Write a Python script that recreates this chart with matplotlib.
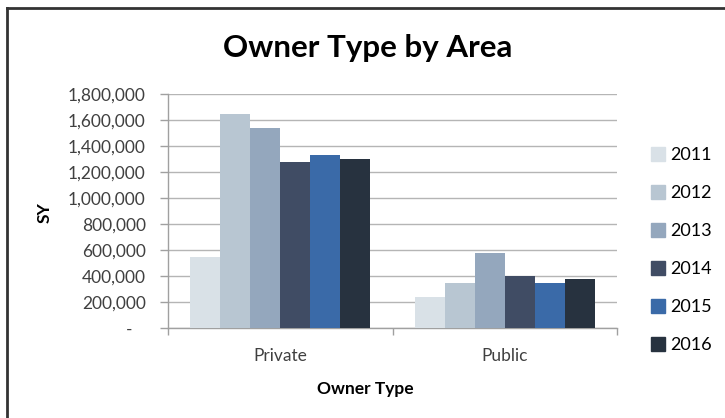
import matplotlib
matplotlib.use('Agg')
import matplotlib.pyplot as plt
import numpy as np
from matplotlib.lines import Line2D
from matplotlib.ticker import FuncFormatter

owner_types = ['Private', 'Public']
years = ['2011', '2012', '2013', '2014', '2015', '2016']
sy_2011 = [550000, 240000]
sy_2012 = [1650000, 345000]
sy_2013 = [1540000, 577000]
sy_2014 = [1275000, 400000]
sy_2015 = [1330000, 345000]
sy_2016 = [1300000, 380000]
colors = ['#D9E1E7', '#B8C6D2', '#94A7BD', '#404C64', '#3A6AA8', '#27323F']

plt.rcParams['font.family'] = ['Lato', 'DejaVu Sans']

fig = plt.figure(figsize=(7.25, 4.18), dpi=100)
ax = fig.add_axes([168 / 725, 1 - 328.3 / 418, (617 - 168) / 725, (328.3 - 94) / 418])

series = [sy_2011, sy_2012, sy_2013, sy_2014, sy_2015, sy_2016]
x = np.arange(len(owner_types))
width = 0.8 / len(series)
for i, (vals, year, c) in enumerate(zip(series, years, colors)):
    ax.bar(x + (i - 2.5) * width, vals, width, color=c, label=year, zorder=3)

ax.set_xlim(-0.5, 1.5)
ax.set_ylim(0, 1800000)
ax.set_yticks(np.arange(0, 1800001, 200000))


def fmt(v, pos):
    return '-   ' if v == 0 else f'{int(v):,}'


ax.yaxis.set_major_formatter(FuncFormatter(fmt))
ax.grid(axis='y', color='#B5B5B5', linewidth=1.0, zorder=0)
ax.set_axisbelow(True)

ax.set_xticks([-0.5, 0.5, 1.5])
ax.set_xticklabels([])
ax.set_xticks(x, minor=True)
ax.set_xticklabels(owner_types, minor=True)
ax.tick_params(axis='x', which='minor', length=0, pad=14, labelsize=12.5, labelcolor='#404040')
ax.tick_params(axis='x', which='major', length=5, color='#A0A0A0', width=1)
ax.tick_params(axis='y', length=6, color='#A0A0A0', width=1, labelsize=12.5, labelcolor='#404040', pad=10)

for side in ['top', 'right']:
    ax.spines[side].set_visible(False)
for side in ['left', 'bottom']:
    ax.spines[side].set_color('#A0A0A0')
    ax.spines[side].set_linewidth(1)

fig.text(45 / 725, 1 - 213 / 418, 'SY', rotation=90, ha='center', va='center',
         fontsize=12.5, fontweight='bold')
fig.text(365 / 725, 1 - 389 / 418, 'Owner Type', ha='center', va='center',
         fontsize=12.5, fontweight='bold')
fig.text(368 / 725, 1 - 48 / 418, 'Owner Type by Area', ha='center', va='center',
         fontsize=22.5, fontweight='bold')

handles = [plt.Rectangle((0, 0), 1, 1, color=c) for c in colors]
fig.legend(handles, years, loc='upper left', bbox_to_anchor=(635 / 725, 1 - 131 / 418),
           frameon=False, fontsize=13, handlelength=0.75, handleheight=0.75,
           handletextpad=0.3, labelspacing=1.22)

# chart border along top and left edges
fig.add_artist(Line2D([7 / 725, 7 / 725], [0, 1 - 7.5 / 418], transform=fig.transFigure,
                      color='#333333', linewidth=2))
fig.add_artist(Line2D([7 / 725, 1], [1 - 7.5 / 418, 1 - 7.5 / 418], transform=fig.transFigure,
                      color='#333333', linewidth=2))

fig.savefig('out.png', dpi=100)
